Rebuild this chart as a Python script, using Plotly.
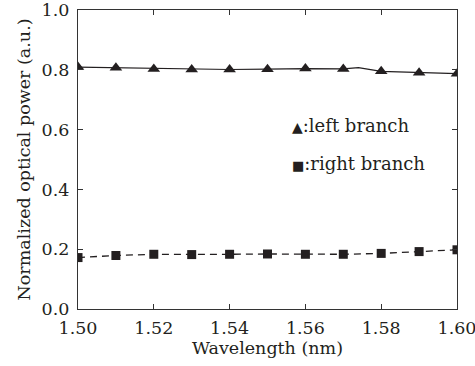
import plotly.graph_objects as go

# Data
wavelength = [1.50, 1.51, 1.52, 1.53, 1.54, 1.55, 1.56, 1.57, 1.58, 1.59, 1.60]
left_branch = [0.809, 0.807, 0.803, 0.801, 0.801, 0.802, 0.804, 0.803, 0.795, 0.790, 0.787]
right_branch = [0.172, 0.179, 0.183, 0.182, 0.183, 0.184, 0.183, 0.183, 0.186, 0.192, 0.198]

# the solid curve has one extra (unmarked) sample between 1.57 and 1.58
left_curve_x = [1.50, 1.51, 1.52, 1.53, 1.54, 1.55, 1.56, 1.57, 1.574, 1.58, 1.59, 1.60]
left_curve_y = [0.809, 0.807, 0.803, 0.801, 0.801, 0.802, 0.804, 0.803, 0.807, 0.795, 0.790, 0.787]

x_ticks = [1.50, 1.52, 1.54, 1.56, 1.58, 1.60]
x_tick_labels = ["1.50", "1.52", "1.54", "1.56", "1.58", "1.60"]
y_ticks = [0.0, 0.2, 0.4, 0.6, 0.8, 1.0]
y_tick_labels = ["0.0", "0.2", "0.4", "0.6", "0.8", "1.0"]

INK = "#231f20"
FONT = "DejaVu Serif"
FS = 17.5

fig = go.Figure()
fig.add_trace(go.Scatter(x=left_curve_x, y=left_curve_y, mode="lines",
                         line=dict(color=INK, width=1.2), showlegend=False, hoverinfo="skip"))
fig.add_trace(go.Scatter(x=wavelength, y=left_branch, mode="markers", name="left branch",
                         marker=dict(symbol="triangle-up", size=11, color=INK), showlegend=False))
fig.add_trace(go.Scatter(x=wavelength, y=right_branch, mode="lines+markers", name="right branch",
                         line=dict(color=INK, width=1.3, dash="7px,5px"),
                         marker=dict(symbol="square", size=9, color=INK), showlegend=False))

axis_common = dict(
    showline=True, linecolor="#333333", linewidth=1.2, mirror="allticks",
    ticks="inside", ticklen=5, tickwidth=1, tickcolor="#333333",
    showgrid=False, zeroline=False, automargin=False, ticklabeloverflow="allow",
    tickfont=dict(family=FONT, size=FS, color=INK),
)

fig.update_layout(
    width=475, height=366,
    margin=dict(l=78, r=18, t=10, b=57),
    paper_bgcolor="white", plot_bgcolor="white",
    font=dict(family=FONT, size=FS, color=INK),
    xaxis=dict(range=[1.50, 1.60], tickvals=x_ticks, ticktext=x_tick_labels,
               ticklabelstandoff=3,
               title=dict(text="Wavelength (nm)", font=dict(family=FONT, size=FS, color=INK), standoff=4),
               **axis_common),
    yaxis=dict(range=[0.0, 1.0], tickvals=y_ticks, ticktext=y_tick_labels,
               ticklabelstandoff=4,
               title=dict(text="Normalized optical power (a.u.)", font=dict(family=FONT, size=FS, color=INK), standoff=6),
               **axis_common),
    annotations=[
        dict(xref="paper", yref="paper", x=0.56, y=0.613, xanchor="left", yanchor="middle",
             text='<span style="font-size:14px">▲</span>:left branch', showarrow=False,
             font=dict(family=FONT, size=18, color=INK)),
        dict(xref="paper", yref="paper", x=0.56, y=0.486, xanchor="left", yanchor="middle",
             text='<span style="font-size:13px">■</span>:right branch', showarrow=False,
             font=dict(family=FONT, size=18, color=INK)),
    ],
)

fig.write_html("out.html", config={"displayModeBar": False},
               post_script="document.body.style.margin='0';")
